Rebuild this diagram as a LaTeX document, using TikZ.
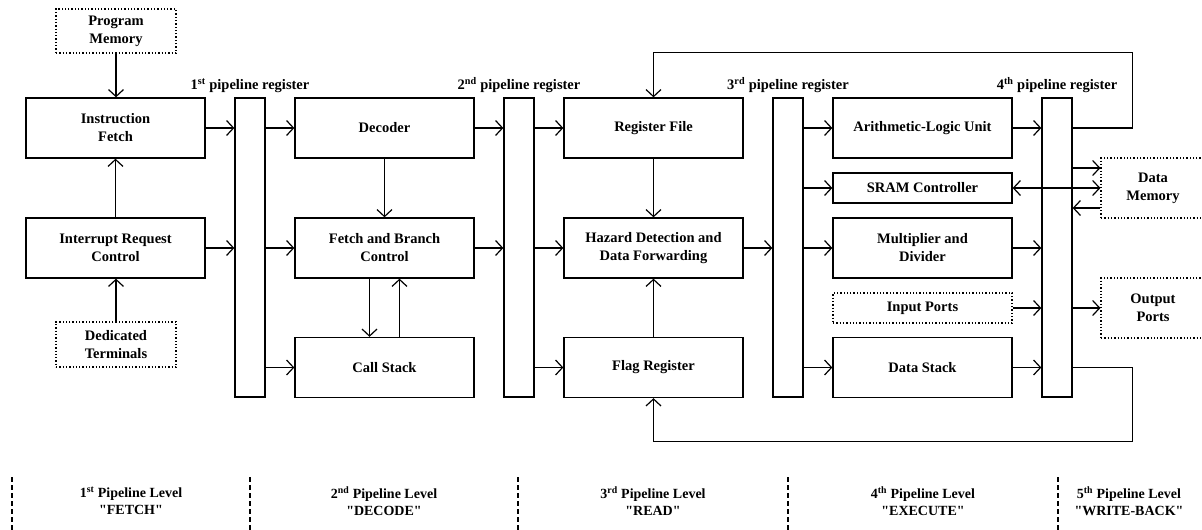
\documentclass[tikz,border=0pt]{standalone}
\usepackage{fontspec}
\setmainfont{Liberation Serif}[Ligatures=TeXOff]
\usetikzlibrary{arrows.meta,calc}

\tikzset{
  blk/.style={draw, line width=1.3pt, minimum width=179pt, minimum height=60pt,
    inner sep=0pt, align=center, font=\fontsize{14.5}{18}\selectfont\bfseries},
  thin blk/.style={blk, minimum height=30pt},
  ext/.style={blk, dotted, line width=1.1pt},
  preg/.style={draw, line width=1.3pt, minimum width=30pt, minimum height=299pt, inner sep=0pt},
  preglabel/.style={above=4pt, font=\fontsize{14.5}{18}\selectfont\bfseries, inner sep=0pt},
  arr/.style={line width=1.2pt, -{Straight Barb[length=7pt,width=15pt]}},
  dblarr/.style={line width=1.2pt, {Straight Barb[length=7pt,width=15pt]}-{Straight Barb[length=7pt,width=15pt]}},
  stagesep/.style={line width=1.7pt, dash pattern=on 5pt off 3pt},
  stagelabel/.style={align=center, font=\fontsize{14}{17}\selectfont\bfseries}
}

\begin{document}
\begin{tikzpicture}[x=1pt,y=1pt]
\useasboundingbox (0,0) rectangle (1202,-530);

% stage 1: fetch
\node[ext, minimum width=120pt, minimum height=44pt] (pm) at (116,-31) {Program\\Memory};
\node[blk] (ifetch) at (115.5,-128) {Instruction\\Fetch};
\node[blk] (irc) at (115.5,-248) {Interrupt Request\\Control};
\node[ext, minimum width=120pt, minimum height=45pt] (dt) at (116,-344.5) {Dedicated\\Terminals};

% pipeline registers
\node[preg] (r1) at (250,-247.5) {};
\node[preg] (r2) at (519,-247.5) {};
\node[preg] (r3) at (788,-247.5) {};
\node[preg] (r4) at (1057,-247.5) {};
\node[preglabel] (l1) at (r1.north) {1\textsuperscript{st} pipeline register};
\node[preglabel] (l2) at (r2.north) {2\textsuperscript{nd} pipeline register};
\node[preglabel] (l3) at (r3.north) {3\textsuperscript{rd} pipeline register};
\node[preglabel] (l4) at (r4.north) {4\textsuperscript{th} pipeline register};

% stage 2: decode
\node[blk] (dec) at (384.5,-128) {Decoder};
\node[blk] (fbc) at (384.5,-248) {Fetch and Branch\\Control};
\node[blk] (cs) at (384.5,-367.5) {Call Stack};

% stage 3: read
\node[blk] (rf) at (653.5,-128) {Register File};
\node[blk] (hz) at (653.5,-248) {Hazard Detection and\\Data Forwarding};
\node[blk] (fr) at (653.5,-367.5) {Flag Register};

% stage 4: execute
\node[blk] (alu) at (922.5,-128) {Arithmetic-Logic Unit};
\node[thin blk] (sram) at (922.5,-188) {SRAM Controller};
\node[blk] (mult) at (922.5,-248) {Multiplier and\\Divider};
\node[ext, minimum height=30pt] (inp) at (922.5,-308) {Input Ports};
\node[blk] (ds) at (922.5,-367.5) {Data Stack};

% stage 5: write-back
\node[ext, minimum width=104pt] (dm) at (1153,-188) {Data\\Memory};
\node[ext, minimum width=104pt] (op) at (1153,-308) {Output\\Ports};

% fetch connections
\draw[arr] (pm.south) -- (pm.south |- ifetch.north);
\draw[arr] (irc.north) -- (ifetch.south);
\draw[arr] (dt.north) -- (dt.north |- irc.south);
\draw[arr] (ifetch.east) -- (ifetch.east -| r1.west);
\draw[arr] (irc.east) -- (irc.east -| r1.west);

% decode connections
\draw[arr] (r1.east |- dec) -- (dec.west);
\draw[arr] (r1.east |- fbc) -- (fbc.west);
\draw[arr] (r1.east |- cs) -- (cs.west);
\draw[arr] (dec.south) -- (fbc.north);
\draw[arr] ($(fbc.south)+(-15,0)$) -- ($(cs.north)+(-15,0)$);
\draw[arr] ($(cs.north)+(15,0)$) -- ($(fbc.south)+(15,0)$);
\draw[arr] (dec.east) -- (dec.east -| r2.west);
\draw[arr] (fbc.east) -- (fbc.east -| r2.west);

% read connections
\draw[arr] (r2.east |- rf) -- (rf.west);
\draw[arr] (r2.east |- hz) -- (hz.west);
\draw[arr] (r2.east |- fr) -- (fr.west);
\draw[arr] (rf.south) -- (hz.north);
\draw[arr] (fr.north) -- (hz.south);
\draw[arr] (hz.east) -- (hz.east -| r3.west);

% execute connections
\draw[arr] (r3.east |- alu) -- (alu.west);
\draw[arr] (r3.east |- sram) -- (sram.west);
\draw[arr] (r3.east |- mult) -- (mult.west);
\draw[arr] (r3.east |- ds) -- (ds.west);
\draw[arr] (alu.east) -- (alu.east -| r4.west);
\draw[arr] (mult.east) -- (mult.east -| r4.west);
\draw[arr] (inp.east) -- (inp.east -| r4.west);
\draw[arr] (ds.east) -- (ds.east -| r4.west);

% write-back connections
\draw[arr] ($(r4.east |- dm.west)+(0,20)$) -- ($(dm.west)+(0,20)$);
\draw[dblarr] (sram.east) -- (sram.east -| dm.west);
\draw[arr] ($(dm.west)+(0,-20)$) -- ($(r4.east |- dm.west)+(0,-20)$);
\draw[arr] (r4.east |- op) -- (op.west);

% feedback paths
\draw[arr] (r4.east |- alu) -- ++(60,0) |- ($(rf.north)+(0,45)$) -- (rf.north);
\draw[arr] (r4.east |- ds) -- ++(60,0) |- ($(fr.south)+(0,-43)$) -- (fr.south);

% pipeline level separators
\coordinate (s0) at (12,-477);
\coordinate (s1) at (250,-477);
\coordinate (s2) at (518,-477);
\coordinate (s3) at (788,-477);
\coordinate (s4) at (1058,-477);
\foreach \s in {s0,s1,s2,s3,s4}
  \draw[stagesep] (\s) -- ++(0,-53);

\node[stagelabel] (p1) at (131,-501) {1\textsuperscript{st} Pipeline Level\\"FETCH"};
\node[stagelabel] (p2) at (384,-501) {2\textsuperscript{nd} Pipeline Level\\"DECODE"};
\node[stagelabel] (p3) at (653,-501) {3\textsuperscript{rd} Pipeline Level\\"READ"};
\node[stagelabel] (p4) at (923,-501) {4\textsuperscript{th} Pipeline Level\\"EXECUTE"};
\node[stagelabel] (p5) at (1129,-501) {5\textsuperscript{th} Pipeline Level\\"WRITE-BACK"};
\end{tikzpicture}
\end{document}
